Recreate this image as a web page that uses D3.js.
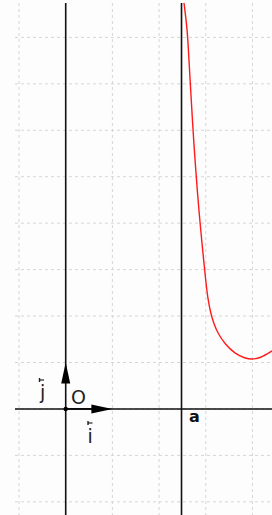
<!DOCTYPE html>
<html>
<head>
<meta charset="utf-8">
<script src="https://cdn.jsdelivr.net/npm/d3@7"></script>
<style>
	body { margin: 0; background: #fdfdfd; }
	svg { display: block; }
</style>
</head>
<body>
<svg id="chart" width="272" height="515"></svg>
<script>
// values (in grid units)
var gridX = [-1, 0, 1, 2, 3, 4];
var gridY = [-2, -1, 0, 1, 2, 3, 4, 5, 6, 7, 8];
var asymptoteA = 2.48;
var curveX = [2.533, 2.604, 2.640, 2.677, 2.711, 2.747, 2.784, 2.818, 2.854, 2.891, 2.925, 2.961, 2.998, 3.040, 3.100, 3.170, 3.268, 3.411, 3.625, 3.84, 3.99, 4.16, 4.42];
var curveY = [8.74, 8.19, 7.50, 6.86, 6.26, 5.68, 5.17, 4.70, 4.27, 3.86, 3.50, 3.14, 2.77, 2.40, 2.08, 1.84, 1.61, 1.40, 1.19, 1.09, 1.07, 1.09, 1.25];

var svg = d3.select("#chart");

// plot area (window.top is taken, so use other names)
var plotLeft = 15, plotRight = 272, plotTop = 3, plotBottom = 515;

var x = d3.scaleLinear().domain([-1.086, 4.418]).range([plotLeft, plotRight]);
var y = d3.scaleLinear().domain([8.74, -2.283]).range([plotTop, plotBottom]);

svg.append("defs").append("clipPath")
	.attr("id", "plot")
	.append("rect")
	.attr("x", plotLeft).attr("y", plotTop)
	.attr("width", plotRight - plotLeft).attr("height", plotBottom - plotTop);

var g = svg.append("g").attr("clip-path", "url(#plot)");

// dashed grid
g.selectAll(".gx")
	.data(gridX)
.enter().append("line")
	.attr("x1", (d) => x(d)).attr("x2", (d) => x(d))
	.attr("y1", plotTop).attr("y2", plotBottom)
	.style("stroke", "#d6d6d6")
	.style("stroke-dasharray", "3,3");

g.selectAll(".gy")
	.data(gridY)
.enter().append("line")
	.attr("x1", plotLeft).attr("x2", plotRight)
	.attr("y1", (d) => y(d)).attr("y2", (d) => y(d))
	.style("stroke", "#d6d6d6")
	.style("stroke-dasharray", "3,3");

// axes
g.append("line")
	.attr("x1", plotLeft).attr("x2", plotRight)
	.attr("y1", y(0)).attr("y2", y(0))
	.style("stroke", "#111").style("stroke-width", 1.6);

g.append("line")
	.attr("x1", x(0)).attr("x2", x(0))
	.attr("y1", plotTop).attr("y2", plotBottom)
	.style("stroke", "#111").style("stroke-width", 1.6);

// line x = a
g.append("line")
	.attr("x1", x(asymptoteA)).attr("x2", x(asymptoteA))
	.attr("y1", plotTop).attr("y2", plotBottom)
	.style("stroke", "#111").style("stroke-width", 1.6);

// the curve
var pts = curveX.map((d, i) => [d, curveY[i]]);
var line = d3.line()
	.x((d) => x(d[0]))
	.y((d) => y(d[1]))
	.curve(d3.curveBasis);

g.append("path")
	.datum(pts)
	.attr("d", line)
	.style("fill", "none")
	.style("stroke", "#ff1a1a")
	.style("stroke-width", 1.4);

// unit vectors i and j
var ox = x(0), oy = y(0);

g.append("line")
	.attr("x1", ox).attr("y1", oy)
	.attr("x2", x(1) - 20).attr("y2", oy)
	.style("stroke", "#000").style("stroke-width", 1.6);
g.append("path")
	.attr("d", "M" + x(1) + "," + oy + "L" + (x(1) - 21) + "," + (oy - 4.5) + "L" + (x(1) - 21) + "," + (oy + 4.5) + "Z")
	.style("fill", "#000");

g.append("path")
	.attr("d", "M" + ox + "," + y(1) + "L" + (ox - 4.5) + "," + (y(1) + 21) + "L" + (ox + 4.5) + "," + (y(1) + 21) + "Z")
	.style("fill", "#000");

g.append("circle")
	.attr("cx", ox).attr("cy", oy)
	.attr("r", 2.2)
	.style("fill", "#000");

// labels
var font = "'DejaVu Sans', sans-serif";

svg.append("text")
	.attr("x", 71).attr("y", 404)
	.style("font-family", font).style("font-size", "19px")
	.style("fill", "#222")
	.text("O");

svg.append("text")
	.attr("x", 40).attr("y", 399)
	.style("font-family", font).style("font-size", "19px")
	.style("fill", "#222")
	.text("j");

svg.append("text")
	.attr("x", 87.5).attr("y", 443)
	.style("font-family", font).style("font-size", "19px")
	.style("fill", "#222")
	.text("i");

// little vector arrows over i and j
[[39.5, 380], [88, 423]].forEach((p) => {
	svg.append("path")
		.attr("d", "M" + p[0] + "," + p[1] + "h4.5")
		.style("stroke", "#222").style("stroke-width", 1.2);
	svg.append("path")
		.attr("d", "M" + p[0] + "," + (p[1] - 2) + "v4")
		.style("stroke", "#222").style("stroke-width", 1.4);
});

svg.append("text")
	.attr("x", 189).attr("y", 422)
	.style("font-family", font).style("font-size", "16px")
	.style("font-weight", "bold")
	.style("fill", "#111")
	.text("a");
</script>
</body>
</html>
